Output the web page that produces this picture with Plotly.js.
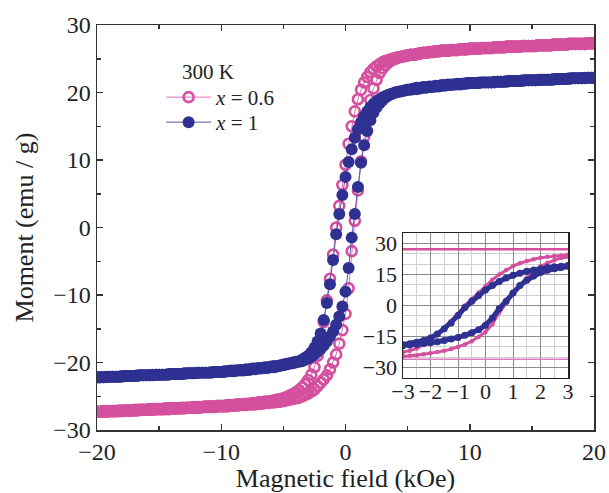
<!DOCTYPE html>
<html>
<head>
<meta charset="utf-8">
<script src="https://cdn.plot.ly/plotly-3.0.1.min.js"></script>
<style>html,body{margin:0;padding:0;background:#fff;}#chart{width:609px;height:493px;}</style>
</head>
<body>
<div id="chart"></div>
<script>
// Field sweep (kOe), descending from +20 to -20; the return sweep uses the same values in reverse order
var fieldSweep = [20,19.75,19.5,19.25,19,18.75,18.5,18.25,18,17.75,17.5,17.25,17,16.75,16.5,16.25,16,15.75,15.5,15.25,15,14.75,14.5,14.25,14,13.75,13.5,13.25,13,12.75,12.5,12.25,12,11.75,11.5,11.25,11,10.75,10.5,10.25,10,
9.75,9.5,9.25,9,8.75,8.5,8.25,8,7.75,7.5,7.25,7,6.75,6.5,6.25,6,5.75,5.5,5.25,5,
4.75,4.5,4.25,4,3.75,3.5,3.25,3,2.75,2.5,2.25,2,1.75,1.5,1.25,1,0.75,0.5,0.25,0,
-0.25,-0.5,-0.75,-1,-1.25,-1.5,-1.75,-2,-2.25,-2.5,-2.75,-3,-3.25,-3.5,-3.75,-4,-4.25,-4.5,-4.75,-5,
-5.25,-5.5,-5.75,-6,-6.25,-6.5,-6.75,-7,-7.25,-7.5,-7.75,-8,-8.25,-8.5,-8.75,-9,-9.25,-9.5,-9.75,-10,
-10.25,-10.5,-10.75,-11,-11.25,-11.5,-11.75,-12,-12.25,-12.5,-12.75,-13,-13.25,-13.5,-13.75,-14,-14.25,-14.5,-14.75,-15,-15.25,-15.5,-15.75,-16,-16.25,-16.5,-16.75,-17,-17.25,-17.5,-17.75,-18,-18.25,-18.5,-18.75,-19,-19.25,-19.5,-19.75,-20];
var fieldReturn = fieldSweep.slice().reverse();

// x = 0.6, descending branch (emu/g), same order as fieldSweep
var pinkDesc = [27.3,27.3,27.3,27.2,27.2,27.2,27.2,27.2,27.2,27.1,27.1,27.1,27.1,27.1,27.0,27.0,27.0,27.0,27.0,26.9,26.9,26.9,26.9,26.9,26.8,26.8,26.8,26.8,26.8,26.7,26.7,26.7,26.7,26.6,26.6,26.6,26.6,26.5,26.5,26.5,26.5,
26.4,26.4,26.4,26.3,26.3,26.3,26.2,26.2,26.2,26.1,26.1,26.0,26.0,25.9,25.9,25.8,25.7,25.6,25.6,25.5,
25.4,25.3,25.2,25.1,25.0,24.8,24.7,24.5,24.2,23.9,23.5,23.0,22.3,21.5,20.4,19.0,17.2,15.0,12.4,9.3,
6.3,3.2,0.0,-4.0,-7.6,-10.8,-14.0,-16.8,-19.0,-20.7,-21.8,-22.6,-23.2,-23.7,-24.1,-24.4,-24.7,-24.9,-25.1,-25.3,
-25.4,-25.5,-25.6,-25.7,-25.8,-25.8,-25.9,-25.9,-26.0,-26.0,-26.1,-26.1,-26.2,-26.2,-26.2,-26.3,-26.3,-26.3,-26.4,-26.4,
-26.4,-26.5,-26.5,-26.5,-26.5,-26.6,-26.6,-26.6,-26.6,-26.7,-26.7,-26.7,-26.7,-26.8,-26.8,-26.8,-26.8,-26.8,-26.9,-26.9,-26.9,-26.9,-26.9,-27.0,-27.0,-27.0,-27.0,-27.0,-27.1,-27.1,-27.1,-27.1,-27.1,-27.2,-27.2,-27.2,-27.2,-27.2,-27.3,-27.3];

// x = 0.6, ascending branch, same order as fieldReturn
var pinkAsc = [-27.3,-27.3,-27.3,-27.3,-27.2,-27.2,-27.2,-27.2,-27.2,-27.1,-27.1,-27.1,-27.1,-27.1,-27.0,-27.0,-27.0,-27.0,-27.0,-26.9,-26.9,-26.9,-26.9,-26.9,-26.8,-26.8,-26.8,-26.8,-26.8,-26.7,-26.7,-26.7,-26.7,-26.7,-26.6,-26.6,-26.6,-26.6,-26.6,-26.5,-26.5,
-26.5,-26.5,-26.4,-26.4,-26.4,-26.3,-26.3,-26.3,-26.2,-26.2,-26.2,-26.1,-26.1,-26.0,-26.0,-25.9,-25.9,-25.8,-25.8,-25.7,
-25.6,-25.5,-25.4,-25.3,-25.2,-25.0,-24.8,-24.6,-24.3,-24.0,-23.5,-23.0,-22.5,-21.9,-21.0,-20.0,-18.8,-17.2,-15.2,-12.8,
-9.0,-3.5,1.0,5.5,9.8,13.4,16.5,18.9,20.6,21.9,22.9,23.6,24.1,24.5,24.8,25.0,25.2,25.3,25.4,25.5,
25.6,25.6,25.7,25.8,25.9,25.9,26.0,26.0,26.1,26.1,26.2,26.2,26.2,26.3,26.3,26.3,26.4,26.4,26.4,26.5,
26.5,26.5,26.5,26.6,26.6,26.6,26.6,26.7,26.7,26.7,26.7,26.8,26.8,26.8,26.8,26.8,26.9,26.9,26.9,26.9,26.9,27.0,27.0,27.0,27.0,27.0,27.1,27.1,27.1,27.1,27.1,27.2,27.2,27.2,27.2,27.2,27.2,27.3,27.3,27.3];

// x = 1, descending branch
var blueDesc = [22.2,22.2,22.2,22.2,22.1,22.1,22.1,22.1,22.1,22.0,22.0,22.0,22.0,22.0,21.9,21.9,21.9,21.9,21.9,21.8,21.8,21.8,21.8,21.8,21.7,21.7,21.7,21.7,21.7,21.6,21.6,21.6,21.6,21.5,21.5,21.5,21.5,21.5,21.4,21.4,21.4,
21.4,21.3,21.3,21.3,21.2,21.2,21.2,21.1,21.1,21.0,21.0,20.9,20.9,20.8,20.8,20.7,20.7,20.6,20.5,20.4,
20.3,20.2,20.1,20.0,19.8,19.7,19.5,19.3,19.0,18.7,18.3,17.8,17.2,16.5,15.6,14.6,13.3,11.6,9.7,7.5,
4.8,2.0,-1.0,-4.8,-8.4,-11.2,-13.7,-15.7,-16.9,-17.8,-18.5,-19.0,-19.3,-19.6,-19.8,-19.9,-20.0,-20.1,-20.2,-20.3,
-20.4,-20.5,-20.5,-20.6,-20.7,-20.7,-20.8,-20.8,-20.9,-20.9,-21.0,-21.0,-21.1,-21.1,-21.2,-21.2,-21.2,-21.3,-21.3,-21.4,
-21.4,-21.4,-21.4,-21.5,-21.5,-21.5,-21.5,-21.5,-21.6,-21.6,-21.6,-21.6,-21.7,-21.7,-21.7,-21.7,-21.7,-21.8,-21.8,-21.8,-21.8,-21.8,-21.9,-21.9,-21.9,-21.9,-21.9,-22.0,-22.0,-22.0,-22.0,-22.0,-22.1,-22.1,-22.1,-22.1,-22.1,-22.2,-22.2,-22.2];

// x = 1, ascending branch
var blueAsc = [-22.2,-22.2,-22.2,-22.2,-22.1,-22.1,-22.1,-22.1,-22.1,-22.0,-22.0,-22.0,-22.0,-22.0,-21.9,-21.9,-21.9,-21.9,-21.9,-21.8,-21.8,-21.8,-21.8,-21.8,-21.7,-21.7,-21.7,-21.7,-21.7,-21.6,-21.6,-21.6,-21.6,-21.5,-21.5,-21.5,-21.5,-21.5,-21.4,-21.4,-21.4,
-21.4,-21.3,-21.3,-21.3,-21.2,-21.2,-21.2,-21.1,-21.1,-21.0,-21.0,-20.9,-20.9,-20.8,-20.8,-20.7,-20.7,-20.6,-20.5,-20.4,
-20.3,-20.2,-20.1,-20.0,-19.9,-19.8,-19.6,-19.4,-19.1,-18.8,-18.4,-18.0,-17.5,-16.9,-16.2,-15.4,-14.4,-13.2,-11.7,-9.5,
-6.0,-1.5,2.0,6.0,9.6,12.2,14.3,15.9,17.0,17.8,18.4,18.9,19.3,19.6,19.8,20.0,20.1,20.2,20.3,20.4,
20.4,20.5,20.5,20.6,20.7,20.7,20.8,20.8,20.9,20.9,21.0,21.0,21.1,21.1,21.2,21.2,21.2,21.3,21.3,21.4,
21.4,21.4,21.4,21.5,21.5,21.5,21.5,21.5,21.6,21.6,21.6,21.6,21.7,21.7,21.7,21.7,21.7,21.8,21.8,21.8,21.8,21.8,21.9,21.9,21.9,21.9,21.9,22.0,22.0,22.0,22.0,22.0,22.1,22.1,22.1,22.1,22.1,22.2,22.2,22.2];

// horizontal pink levels seen across the inset (emu/g)
var insetLevels = [27.2, -26.0];

var seriesNames = ['<i>x</i> = 0.6', '<i>x</i> = 1'];
var pinkColor = '#D4509F';
var blueColor = '#2E3192';
var font = 'Liberation Serif, Times New Roman, serif';

var loopX = fieldSweep.concat(fieldReturn);
var pinkY = pinkDesc.concat(pinkAsc);
var blueY = blueDesc.concat(blueAsc);

var traces = [
  {x: loopX, y: pinkY, name: seriesNames[0], legend: 'legend', type: 'scatter', mode: 'lines+markers',
   line: {color: '#DE6FBE', width: 1},
   marker: {symbol: 'circle-open', size: 10, color: pinkColor, line: {width: 2.6, color: pinkColor}}},
  {x: loopX, y: blueY, name: seriesNames[1], legend: 'legend2', type: 'scatter', mode: 'lines+markers',
   line: {color: '#5558A8', width: 1},
   marker: {symbol: 'circle', size: 12, color: blueColor}},
  {x: loopX, y: pinkY, xaxis: 'x2', yaxis: 'y2', showlegend: false, type: 'scatter', mode: 'lines+markers',
   line: {color: pinkColor, width: 3}, marker: {size: 4.5, color: pinkColor}},
  {x: loopX, y: blueY, xaxis: 'x2', yaxis: 'y2', showlegend: false, type: 'scatter', mode: 'lines+markers',
   line: {color: blueColor, width: 5}, marker: {size: 7, color: blueColor}}
];

var axisCommon = {
  showline: true, linecolor: '#333', linewidth: 1.5, mirror: 'ticks',
  ticks: 'inside', ticklen: 6, tickwidth: 1.5, tickcolor: '#333',
  showgrid: false, zeroline: false,
  tickfont: {family: font, size: 24, color: '#222'}
};

var legendCommon = {xanchor: 'left', yanchor: 'top', bgcolor: 'rgba(0,0,0,0)',
  font: {family: font, size: 21, color: '#222'}, tracegroupgap: 0, itemwidth: 45};

var layout = {
  width: 609, height: 493,
  margin: {l: 97, r: 15, t: 25, b: 63},
  paper_bgcolor: '#fff', plot_bgcolor: '#fff',
  font: {family: font, color: '#222'},
  showlegend: true,
  legend: Object.assign({}, legendCommon, {x: 0.129, y: 0.8716}),
  legend2: Object.assign({}, legendCommon, {x: 0.129, y: 0.8099}),
  xaxis: Object.assign({}, axisCommon, {
    range: [-20, 20], dtick: 10, tick0: 0,
    minor: {dtick: 5, ticks: 'inside', ticklen: 4, tickwidth: 1.5, tickcolor: '#333'},
    title: {text: 'Magnetic field (kOe)', font: {family: font, size: 26, color: '#222'}, standoff: 2}
  }),
  yaxis: Object.assign({}, axisCommon, {
    range: [-30, 30], dtick: 10, tick0: 0,
    minor: {dtick: 5, ticks: 'inside', ticklen: 4, tickwidth: 1.5, tickcolor: '#333'}
  }),
  xaxis2: {
    domain: [0.6157, 0.9477], anchor: 'y2', range: [-3, 3], dtick: 1, tick0: 0,
    showline: true, mirror: true, linecolor: '#222', linewidth: 1.5,
    showgrid: true, gridcolor: '#8a8a8a', gridwidth: 1, zeroline: false, ticks: '',
    ticklabelstandoff: -7,
    minor: {dtick: 0.5, showgrid: true, gridcolor: '#d0d0d0', gridwidth: 1},
    tickfont: {family: font, size: 22, color: '#222'}
  },
  yaxis2: {
    domain: [0.1284, 0.4864], anchor: 'x2', range: [-35, 35], dtick: 15, tick0: 0,
    showline: true, mirror: true, linecolor: '#222', linewidth: 1.5,
    showgrid: true, gridcolor: '#8a8a8a', gridwidth: 1, zeroline: false, ticks: '',
    minor: {dtick: 5, showgrid: true, gridcolor: '#d0d0d0', gridwidth: 1},
    tickfont: {family: font, size: 22, color: '#222'}
  },
  shapes: [
    {type: 'line', xref: 'x2 domain', yref: 'y2', x0: 0, x1: 1, y0: insetLevels[0], y1: insetLevels[0],
     line: {color: pinkColor, width: 2.5}, layer: 'above'},
    {type: 'line', xref: 'x2 domain', yref: 'y2', x0: 0, x1: 1, y0: insetLevels[1], y1: insetLevels[1],
     line: {color: '#DE7CC2', width: 1.5}, layer: 'above'}
  ],
  annotations: [
    {text: '300 K', xref: 'paper', yref: 'paper', x: 0.2233, y: 0.884, xanchor: 'center', yanchor: 'middle',
     showarrow: false, font: {family: font, size: 21, color: '#222'}},
    {text: 'Moment (emu / g)', xref: 'paper', yref: 'paper', x: -0.1449, y: 0.5, xanchor: 'center', yanchor: 'middle',
     textangle: -90, showarrow: false, font: {family: font, size: 26, color: '#222'}}
  ]
};

Plotly.newPlot('chart', traces, layout, {staticPlot: true, displayModeBar: false});
</script>
</body>
</html>
